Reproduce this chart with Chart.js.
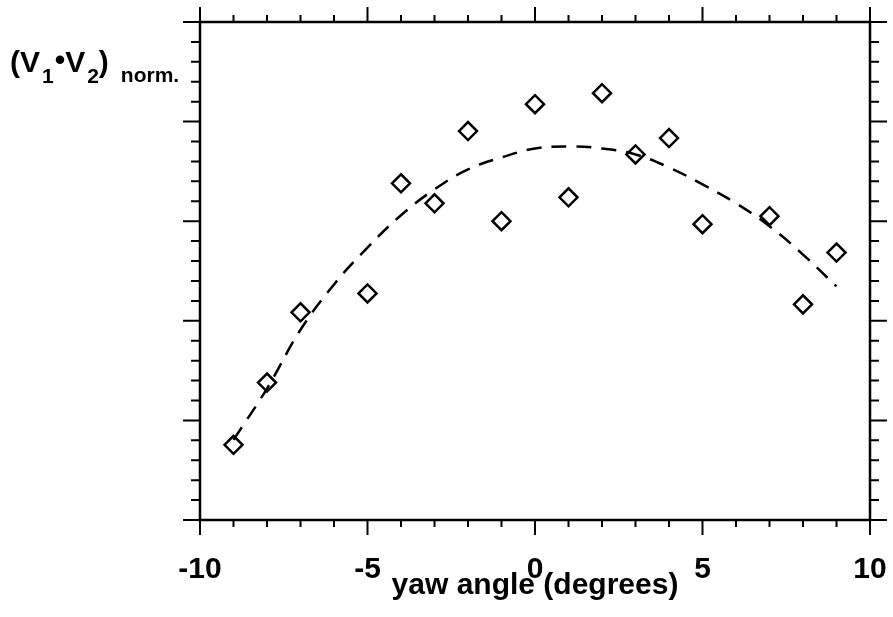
<!DOCTYPE html>
<html>
<head>
<meta charset="utf-8">
<script src="https://cdn.jsdelivr.net/npm/chart.js@4.4.1/dist/chart.umd.min.js"></script>
<style>
  html, body { margin: 0; padding: 0; background: #fff; }
  #wrap { width: 893px; height: 617px; }
</style>
</head>
<body>
<div id="wrap"><canvas id="yawChart"></canvas></div>
<script>
// measured points (V1.V2 normalised vs yaw angle)
const yawAngle = [-9, -8, -7, -5, -4, -3, -2, -1, 0, 1, 2, 3, 4, 5, 7, 8, 9];
const normProduct = [0.151, 0.276, 0.417, 0.455, 0.676, 0.636, 0.781, 0.600, 0.835, 0.648, 0.857, 0.734, 0.767, 0.594, 0.610, 0.433, 0.537];

// dashed fit curve
const fitAngle = [-9, -8, -7, -6, -5, -4, -3, -2, -1, 0, 1, 2, 3, 4, 5, 6, 7, 8, 9];
const fitValue = [0.161, 0.264, 0.382, 0.473, 0.547, 0.612, 0.664, 0.704, 0.728, 0.746, 0.750, 0.746, 0.734, 0.708, 0.674, 0.636, 0.590, 0.533, 0.469];

// axis ticks
const xMajorTicks = [-10, -5, 0, 5, 10];
const xMinorTicks = [-9, -8, -7, -6, -4, -3, -2, -1, 1, 2, 3, 4, 6, 7, 8, 9];
const yMajorTicks = [0, 0.2, 0.4, 0.6, 0.8, 1.0];
const yMinorTicks = [0.04, 0.08, 0.12, 0.16, 0.24, 0.28, 0.32, 0.36, 0.44, 0.48, 0.52, 0.56,
                     0.64, 0.68, 0.72, 0.76, 0.84, 0.88, 0.92, 0.96];

const FONT = '"Liberation Sans", Arial, sans-serif';

// box frame with outward ticks on all four sides + y label
const frameTicks = {
    id: 'frameTicks',
    afterDraw(chart) {
        const { ctx, chartArea: a, scales: { x, y } } = chart;
        ctx.save();
        ctx.strokeStyle = '#000';
        ctx.lineCap = 'butt';

        ctx.lineWidth = 2.5;
        ctx.strokeRect(a.left, a.top, a.right - a.left, a.bottom - a.top);

        ctx.lineWidth = 2;
        const tickX = (v, len) => {
            const px = x.getPixelForValue(v);
            ctx.beginPath();
            ctx.moveTo(px, a.bottom); ctx.lineTo(px, a.bottom + len);
            ctx.moveTo(px, a.top); ctx.lineTo(px, a.top - len);
            ctx.stroke();
        };
        const tickY = (v, len) => {
            const py = y.getPixelForValue(v);
            ctx.beginPath();
            ctx.moveTo(a.left, py); ctx.lineTo(a.left - len, py);
            ctx.moveTo(a.right, py); ctx.lineTo(a.right + len, py);
            ctx.stroke();
        };
        xMajorTicks.forEach(v => tickX(v, 15));
        xMinorTicks.forEach(v => tickX(v, 7));
        yMajorTicks.forEach(v => tickY(v, 17));
        yMinorTicks.forEach(v => tickY(v, 9));

        // y axis label: (V1•V2) norm.
        ctx.fillStyle = '#000';
        ctx.textBaseline = 'alphabetic';
        const big = 'bold 30px ' + FONT;
        const sub = 'bold 21px ' + FONT;
        let cx = 10;
        const base = 72;
        const put = (txt, font, dy) => {
            ctx.font = font;
            ctx.fillText(txt, cx, base + dy);
            cx += ctx.measureText(txt).width;
        };
        put('(V', big, 0);
        cx += 2;
        put('1', sub, 11);
        cx += 1;
        put('\u2022', big, -2);
        put('V', big, 0);
        cx += 2;
        put('2', sub, 11);
        put(')', big, 0);
        cx += 12;
        put('norm.', sub, 10);
        ctx.restore();
    }
};

new Chart(document.getElementById('yawChart'), {
    type: 'scatter',
    data: {
        datasets: [
            {
                label: 'data',
                data: yawAngle.map((v, i) => ({ x: v, y: normProduct[i] })),
                pointStyle: 'rectRot',
                pointRadius: 9,
                pointBorderWidth: 2.5,
                borderColor: '#000',
                backgroundColor: 'rgba(255,255,255,0)',
                showLine: false
            },
            {
                label: 'fit',
                data: fitAngle.map((v, i) => ({ x: v, y: fitValue[i] })),
                showLine: true,
                pointRadius: 0,
                borderColor: '#000',
                borderWidth: 2.5,
                borderDash: [15, 10],
                tension: 0.4,
                fill: false
            }
        ]
    },
    options: {
        responsive: true,
        maintainAspectRatio: false,
        animation: false,
        layout: { padding: { left: 200, right: 23, top: 22, bottom: 0 } },
        plugins: {
            legend: { display: false },
            tooltip: { enabled: false }
        },
        scales: {
            x: {
                type: 'linear',
                min: -10,
                max: 10,
                afterFit: (s) => {
                    s.height = 97;
                    s.paddingLeft = 0;
                    s.paddingRight = 0;
                },
                grid: { display: false },
                border: { display: false },
                ticks: {
                    stepSize: 5,
                    autoSkip: false,
                    maxRotation: 0,
                    padding: 24,
                    color: '#000',
                    font: { family: FONT, size: 30, weight: 'bold' }
                },
                title: {
                    display: true,
                    text: 'yaw angle (degrees)',
                    color: '#000',
                    font: { family: FONT, size: 30, weight: 'bold' },
                    padding: { top: 0, bottom: 13 }
                }
            },
            y: {
                display: false,
                min: 0,
                max: 1
            }
        }
    },
    plugins: [frameTicks]
});
</script>
</body>
</html>
